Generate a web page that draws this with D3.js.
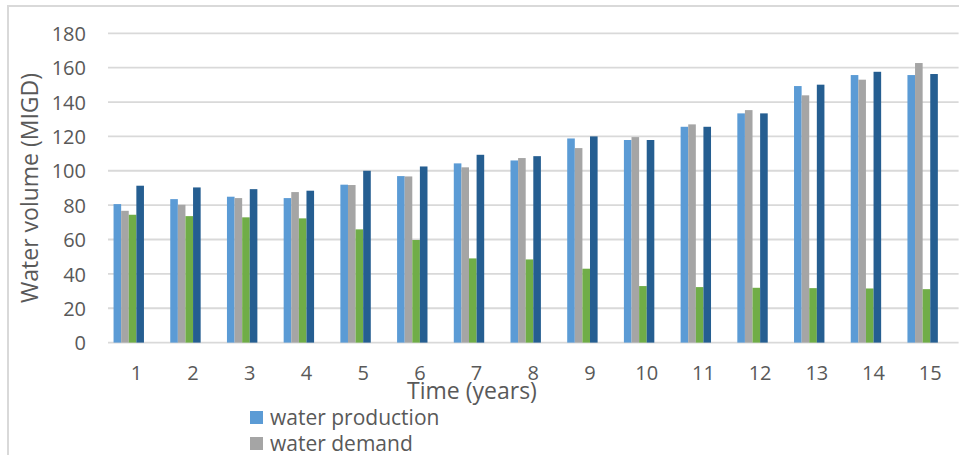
<!DOCTYPE html>
<html>
<head>
<meta charset="utf-8">
<script src="https://cdn.jsdelivr.net/npm/d3@7"></script>
<style>
  html, body { margin: 0; padding: 0; background: #fff; }
  svg { display: block; }
  text { font-family: "Open Sans", Lato, sans-serif; fill: #595959; }
</style>
</head>
<body>
<svg id="chart" width="959" height="455"></svg>
<script>
// ---- data ----
const categories = ["1","2","3","4","5","6","7","8","9","10","11","12","13","14","15"];
const seriesNames = ["water production", "water demand", "series 3", "series 4", "series 5", "series 6"];
const waterProduction = [80.6, 83.5, 84.9, 84.1, 91.9, 96.9, 104.3, 106.0, 118.8, 117.9, 125.6, 133.4, 149.3, 155.7, 155.7];
const waterDemand     = [76.7, 80.2, 84.1, 87.6, 91.7, 96.7, 102.0, 107.4, 113.2, 119.6, 127.0, 135.3, 143.9, 153.0, 162.7];
const series3         = [74.4, 73.6, 72.9, 72.3, 65.9, 59.7, 49.0, 48.4, 43.0, 32.9, 32.3, 31.9, 31.7, 31.5, 31.1];
const series4         = [91.3, 90.3, 89.3, 88.4, 100.0, 102.5, 109.3, 108.5, 120.0, 117.9, 125.6, 133.4, 150.1, 157.6, 156.3];
const series5         = [];
const series6         = [];
const yTicks = [0, 20, 40, 60, 80, 100, 120, 140, 160, 180];
const colors = ["#5B9BD5", "#A5A5A5", "#70AD47", "#255E91", "#9E480E", "#636363"];
const legendShown = ["water production", "water demand"];

const allSeries = [waterProduction, waterDemand, series3, series4, series5, series6];

// ---- layout ----
const svg = d3.select("#chart");
const plot = { left: 108, right: 958.6, top: 33.3, bottom: 342.6 };

// chart frame (cut off at the right and bottom)
svg.append("path")
  .attr("d", "M8,470 L8,6 L975,6")
  .attr("fill", "none")
  .attr("stroke", "#D9D9D9")
  .attr("stroke-width", 2);

const x0 = d3.scaleBand().domain(categories).range([plot.left, plot.right]).padding(0);
const x1 = d3.scaleBand().domain(seriesNames).range([0, x0.bandwidth()]).paddingInner(0).paddingOuter(0.73);
const y = d3.scaleLinear().domain([0, 180]).range([plot.bottom, plot.top]);

// gridlines
svg.append("g").selectAll("line").data(yTicks).join("line")
  .attr("x1", plot.left).attr("x2", plot.right)
  .attr("y1", d => y(d)).attr("y2", d => y(d))
  .attr("stroke", "#D9D9D9").attr("stroke-width", 1.8);

// y tick labels
const yAxis = d3.axisLeft(y).tickValues(yTicks).tickSize(0).tickPadding(0);
const gy = svg.append("g").attr("transform", `translate(86,0)`).call(yAxis);
gy.select(".domain").remove();
gy.selectAll("text").attr("font-size", 20).attr("dy", "0.36em")
  .style("font-family", "\"Open Sans\", sans-serif").attr("fill", "#595959");

// bars
const groups = svg.append("g").selectAll("g").data(categories).join("g")
  .attr("transform", d => `translate(${x0(d)},0)`);
groups.selectAll("rect")
  .data((c, i) => seriesNames.map((s, k) => ({ s, k, v: allSeries[k][i] })).filter(d => d.v !== undefined))
  .join("rect")
  .attr("x", d => x1(d.s))
  .attr("width", x1.bandwidth())
  .attr("y", d => y(d.v))
  .attr("height", d => y(0) - y(d.v))
  .attr("fill", d => colors[d.k]);

// x tick labels
const xAxis = d3.axisBottom(x0).tickSize(0).tickPadding(0);
const gx = svg.append("g").attr("transform", `translate(0,380)`).call(xAxis);
gx.select(".domain").remove();
gx.selectAll("text").attr("font-size", 20).attr("dy", 0)
  .style("font-family", "\"Open Sans\", sans-serif").attr("fill", "#595959");

// axis titles
svg.append("text")
  .attr("transform", `translate(38,${(plot.top + plot.bottom) / 2}) rotate(-90)`)
  .attr("text-anchor", "middle")
  .attr("font-size", 23)
  .text("Water volume (MIGD)");

svg.append("text")
  .attr("x", 472).attr("y", 399)
  .attr("text-anchor", "middle")
  .attr("font-size", 23)
  .text("Time (years)");

// legend (only the first entries are visible in the frame)
const lg = svg.append("g").selectAll("g").data(legendShown).join("g")
  .attr("transform", (d, i) => `translate(250,${411 + i * 26})`);
lg.append("rect").attr("width", 13).attr("height", 13)
  .attr("fill", d => colors[seriesNames.indexOf(d)]);
lg.append("text").attr("x", 20).attr("y", 13.5).attr("font-size", 21).text(d => d);
</script>
</body>
</html>
